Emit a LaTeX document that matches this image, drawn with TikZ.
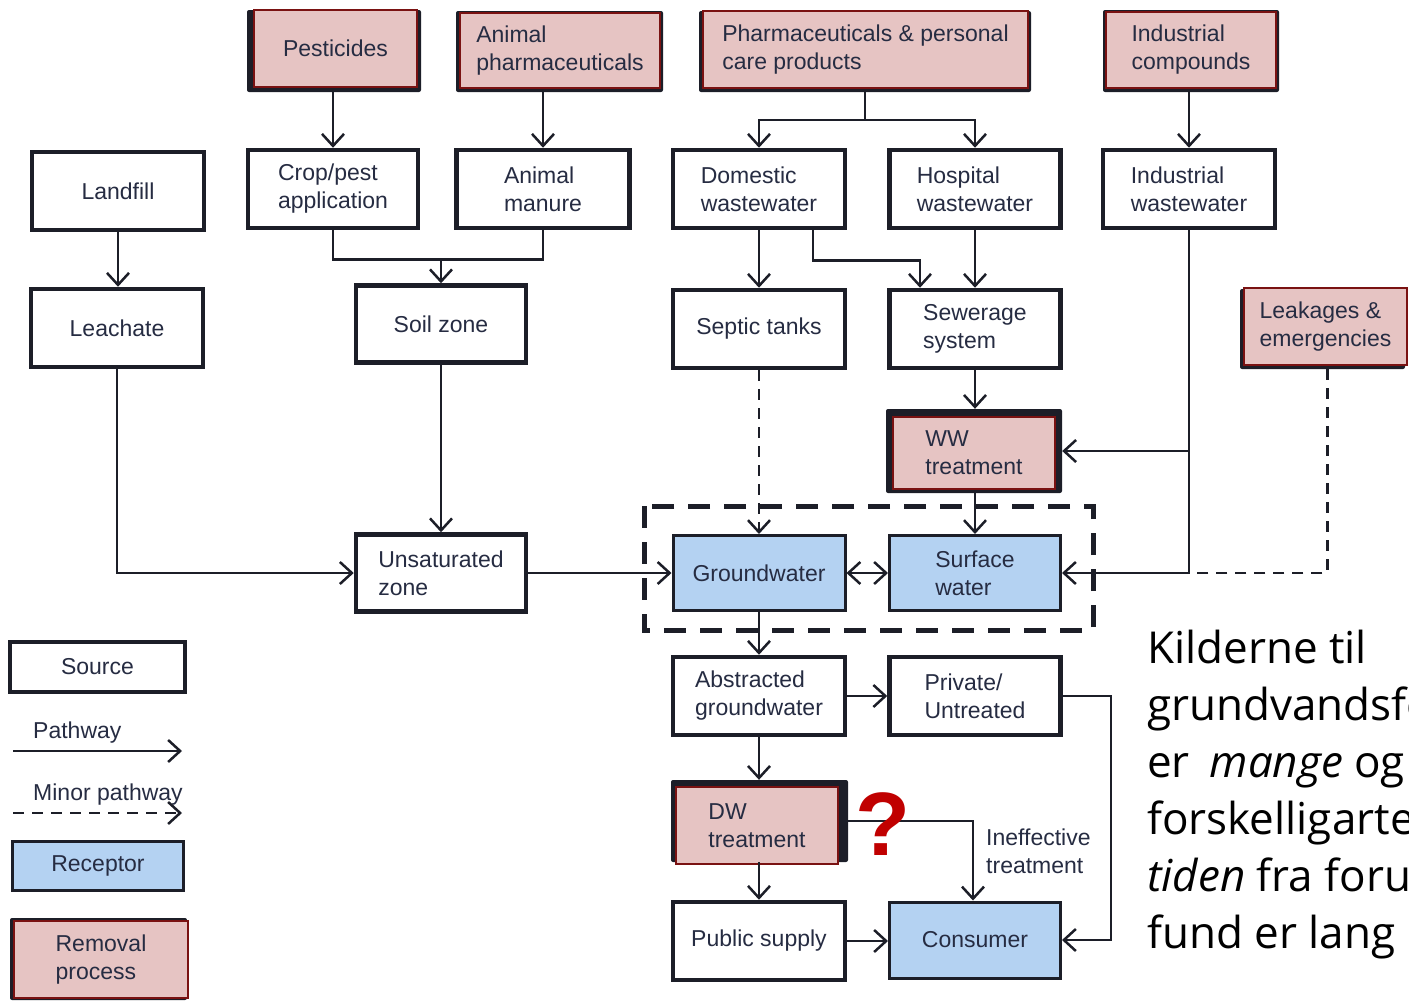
\documentclass[tikz,border=0pt]{standalone}
\usepackage{fontspec}
\setmainfont{Liberation Sans}
\newfontfamily\notefont{Open Sans}
\newfontfamily\qfont{Liberation Sans}
\usetikzlibrary{arrows.meta,calc}
\definecolor{linec}{RGB}{28,30,40}
\definecolor{txtc}{RGB}{38,44,66}
\definecolor{pinkc}{RGB}{230,196,195}
\definecolor{redc}{RGB}{122,18,18}
\definecolor{bluec}{RGB}{180,210,242}
\definecolor{qred}{RGB}{192,0,0}
\begin{document}
\begin{tikzpicture}[x=1pt,y=-1pt,
  >={Straight Barb[length=12pt,width=22pt]},
  sz/.style 2 args={minimum width=#1pt,minimum height=#2pt},
  lbl/.style={font=\fontsize{23}{28}\selectfont,text=txtc,align=left,inner sep=0pt},
  srcbox/.style={lbl,draw=linec,line width=4.5pt,fill=white},
  recbox/.style={lbl,draw=linec,line width=3pt,fill=bluec},
  rem/.style={lbl,draw=redc,line width=2pt,fill=pinkc},
  frm/.style={fill=linec,rounded corners=2pt,inner sep=0pt},
  link/.style={draw=linec,line width=2.5pt},
  arr/.style={link,->},
  arrtwo/.style={link,<->},
  dline/.style={link,dash pattern=on 11pt off 8pt},
  darr/.style={dline,->},
  zone/.style={draw=linec,line width=5pt,dash pattern=on 22pt off 14pt},
  note/.style={font=\notefont\fontsize{44}{57}\selectfont,text=black,inner sep=0pt,anchor=base west},
]
\useasboundingbox (0,0) rectangle (1409,1002);

% ---- sources (removal style) ----
\node[frm,sz={174}{82}] (pestF) at (334,51) {};
\node[rem,sz={163}{77}] (pest) at (335.5,48.5) {Pesticides};
\node[frm,sz={207}{81}] (apharmF) at (559.5,51.5) {};
\node[rem,sz={200}{75}] (apharm) at (560,50.5) {Animal\\pharmaceuticals};
\node[frm,sz={332}{81}] (ppcpF) at (865,51.5) {};
\node[rem,sz={325}{77}] (ppcp) at (865.5,49.5) {Pharmaceuticals \& personal\\care products};
\node[frm,sz={176}{82}] (indcF) at (1191,51) {};
\node[rem,sz={170}{76}] (indc) at (1191,50) {Industrial\\compounds};

% ---- second row ----
\node[srcbox,sz={172}{78}] (land) at (118,191) {Landfill};
\node[srcbox,sz={170}{78}] (crop) at (333,189) {Crop/pest\\application};
\node[srcbox,sz={173}{78}] (manure) at (543,189) {Animal\\manure};
\node[srcbox,sz={172}{78}] (dom) at (759,189) {Domestic\\wastewater};
\node[srcbox,sz={171}{78}] (hosp) at (975,189) {Hospital\\wastewater};
\node[srcbox,sz={172}{78}] (indww) at (1189,189) {Industrial\\wastewater};

% ---- third row ----
\node[srcbox,sz={172}{78}] (leach) at (117,328) {Leachate};
\node[srcbox,sz={170}{77}] (soil) at (441,324) {Soil zone};
\node[srcbox,sz={172}{78}] (septic) at (759,329) {Septic tanks};
\node[srcbox,sz={171}{78}] (sewer) at (975,329) {Sewerage\\system};
\node[frm,sz={165}{80}] (leakF) at (1322.5,329) {};
\node[rem,sz={163}{77}] (leak) at (1325.5,326.5) {Leakages \&\\emergencies};

% ---- treatment of wastewater ----
\node[frm,sz={176}{84}] (wwF) at (974,451) {};
\node[rem,sz={162}{72}] (ww) at (974,453) {WW\\treatment};

% ---- receptors ----
\node[srcbox,sz={170}{77}] (unsat) at (441,573) {Unsaturated\\zone};
\node[recbox,sz={172}{75}] (gw) at (759,573) {Groundwater};
\node[recbox,sz={171}{75}] (sw) at (975,573) {Surface\\water};

% ---- drinking water chain ----
\node[srcbox,sz={172}{78}] (abs) at (759,696) {Abstracted\\groundwater};
\node[srcbox,sz={171}{78}] (priv) at (975,696) {Private/\\Untreated};
\node[frm,sz={177}{82}] (dwF) at (759.5,821) {};
\node[rem,sz={162}{77}] (dw) at (757,825.5) {DW\\treatment};
\node[srcbox,sz={172}{78}] (pub) at (759,941) {Public supply};
\node[recbox,sz={171}{76}] (cons) at (975,940) {Consumer};

% ---- pathways ----
\draw[arr] (crop.north |- pestF.south) -- (crop.north);
\draw[arr] (manure.north |- apharmF.south) -- (manure.north);
\coordinate (ppj) at ($(ppcpF.south)+(0,28)$);
\draw[link] (ppcpF.south) -- (ppj);
\draw[arr] (ppj) -| (dom.north);
\draw[arr] (ppj) -| (hosp.north);
\draw[arr] (indww.north |- indcF.south) -- (indww.north);
\draw[arr] (land.south) -- (land.south |- leach.north);
\coordinate (cmj) at ($(crop.south)+(0,29)$);
\draw[link] (crop.south) -- (cmj) -| (manure.south);
\draw[arr] (cmj -| soil.north) -- (soil.north);
\draw[arr] (dom.south) -- (septic.north);
\draw[arr] ($(dom.south)+(54,0)$) -- ++(0,30) -| ($(sewer.north)+(-55,0)$);
\draw[arr] (hosp.south) -- (sewer.north);
\draw[arr] (sewer.south) -- (sewer.south |- wwF.north);
\draw[arr] (wwF.south -| sw.north) -- (sw.north);
\draw[arr] (indww.south) |- (sw.east);
\draw[arr] (indww.south |- wwF.east) -- (wwF.east);
\draw[dline] ($(leakF.south)+(5,0)$) |- (indww.south |- sw.east);
\draw[darr] (septic.south) -- (gw.north);
\draw[arr] (leach.south) |- (unsat.west);
\draw[arr] (soil.south) -- (unsat.north);
\draw[arr] (unsat.east) -- (gw.west);
\draw[arrtwo] (gw.east) -- (sw.west);
\draw[arr] (gw.south) -- (abs.north);
\draw[arr] (abs.east) -- (priv.west);
\draw[arr] (abs.south) -- (abs.south |- dwF.north);
\draw[arr] (dwF.south -| pub.north) -- (pub.north);
\draw[arr] (dwF.east) -| ($(cons.north)+(-2,0)$);
\draw[arr] (pub.east) -- (pub.east -| cons.west);
\draw[arr] (priv.east) -- ++(48,0) |- (cons.east);

% water bodies grouped
\draw[zone] (644,506) rectangle (1093,630);

\node[text=qred,font=\qfont\bfseries\fontsize{90}{90}\selectfont,anchor=base,inner sep=0pt] (qm) at (883,855) {?};
\node[lbl,anchor=west] (ineff) at (986,851) {Ineffective\\treatment};

% ---- legend ----
\node[srcbox,sz={175}{50}] (lsrc) at (97.5,667) {Source};
\node[lbl,anchor=base west] (lpath) at (33,738) {Pathway};
\coordinate (pa) at (13,751);
\coordinate (pb) at (182,751);
\draw[arr] (pa) -- (pb);
\node[lbl,anchor=base west] (lminor) at (33,800) {Minor pathway};
\coordinate (ma) at (13,813);
\coordinate (mb) at (182,813);
\draw[darr] (ma) -- (mb);
\node[recbox,sz={171}{49}] (lrec) at (98,865.5) {Receptor};
\node[frm,sz={177}{82}] (legF) at (98.5,959) {};
\node[rem,sz={174}{77}] (leg) at (101,959.5) {Removal\\process};

% ---- side note ----
\node[note] (t1) at (1147,663) {Kilderne til};
\node[note] (t2) at (1147,720) {grundvandsforurening};
\node[note] (t3) at (1147,777) {er\hspace{0.45em}\textit{mange} og};
\node[note] (t4) at (1147,834) {forskelligartede,};
\node[note] (t5) at (1147,891) {\textit{tiden} fra forurening};
\node[note] (t6) at (1147,948) {fund er lang};
\end{tikzpicture}
\end{document}
